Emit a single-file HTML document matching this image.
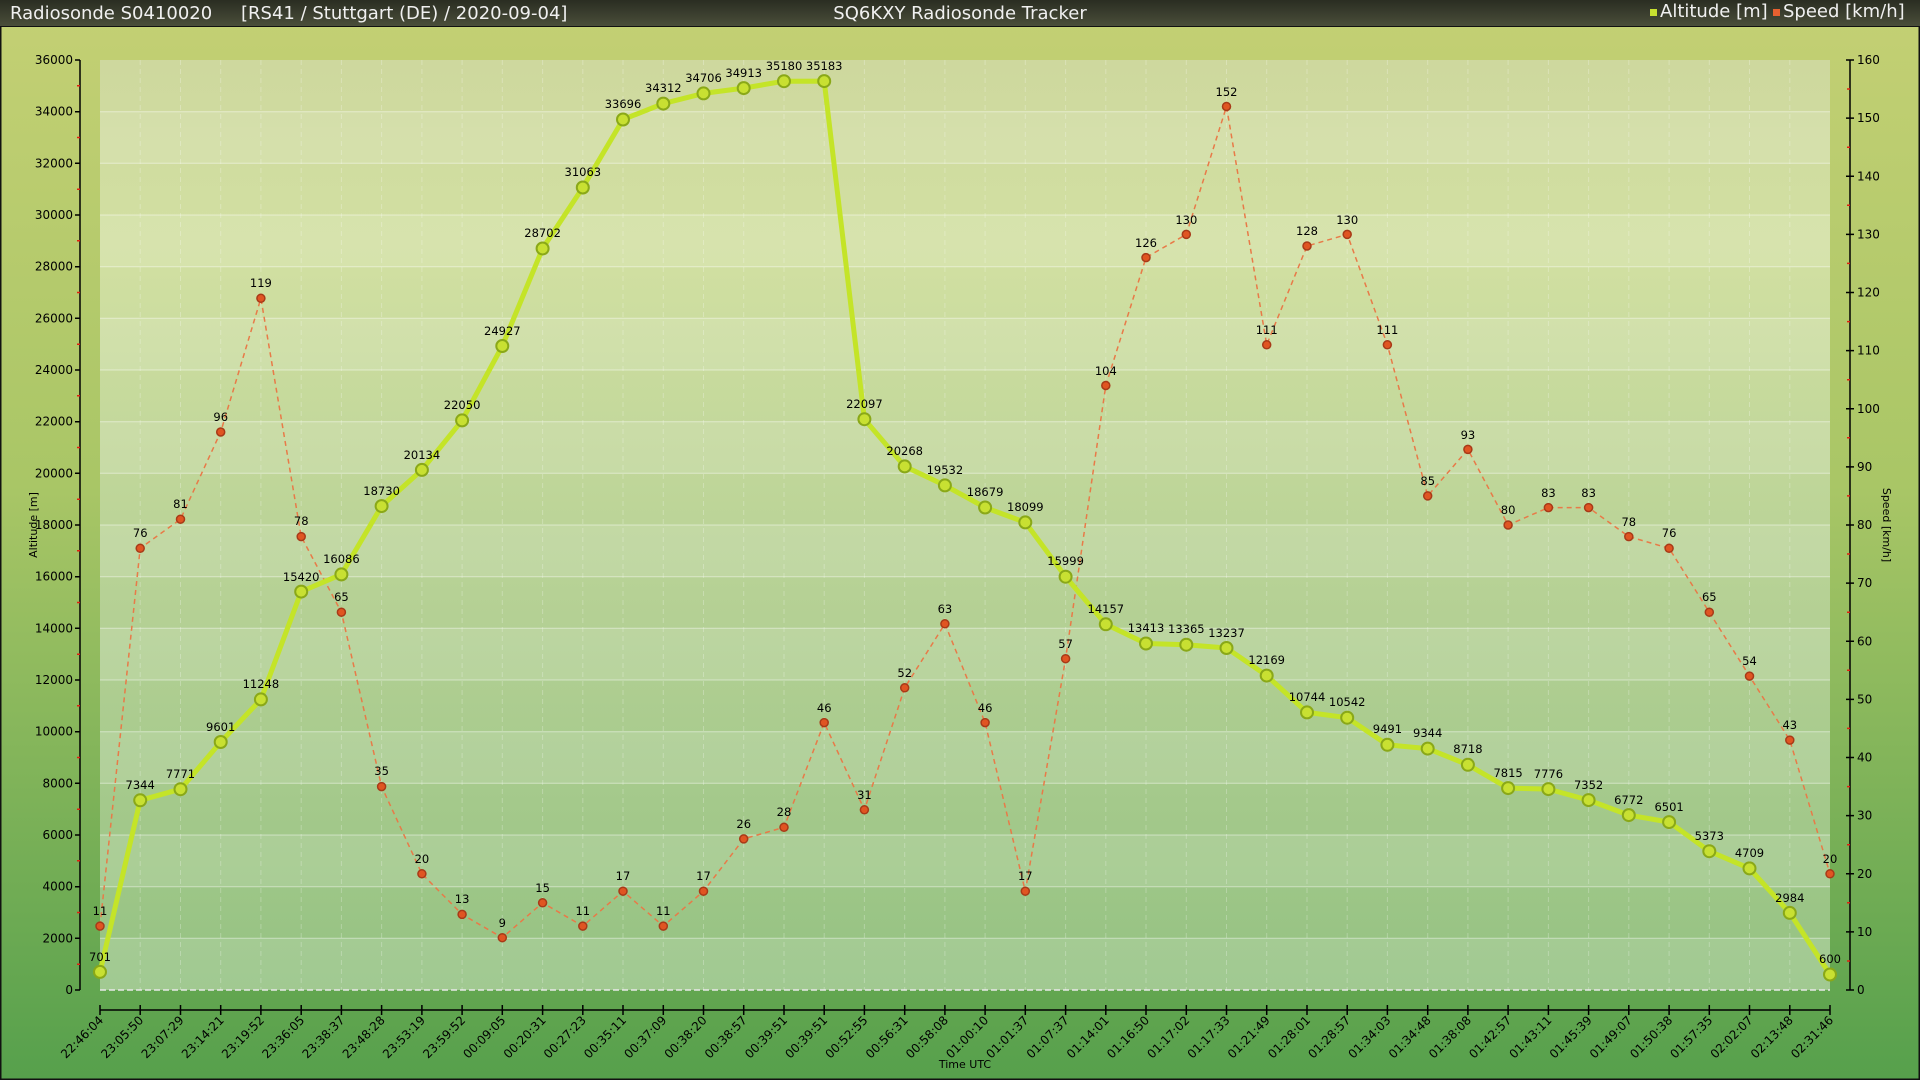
<!DOCTYPE html>
<html><head><meta charset="utf-8"><style>
html,body{margin:0;padding:0;width:1920px;height:1080px;overflow:hidden;font-family:"Liberation Sans","DejaVu Sans",sans-serif;}
</style></head><body>
<svg width="1920" height="1080" viewBox="0 0 1920 1080" xmlns="http://www.w3.org/2000/svg" font-family="DejaVu Sans, Liberation Sans, sans-serif">
<defs>
<linearGradient id="bg" x1="0" y1="0" x2="0" y2="1"><stop offset="0" stop-color="#c4d074"/><stop offset="0.45" stop-color="#a9c666"/><stop offset="1" stop-color="#56a04c"/></linearGradient>
<linearGradient id="hd" x1="0" y1="0" x2="0" y2="1"><stop offset="0" stop-color="#2a2d22"/><stop offset="1" stop-color="#4a4e3a"/></linearGradient>
<linearGradient id="pl" x1="0" y1="0" x2="0" y2="1"><stop offset="0" stop-color="#ced89e"/><stop offset="0.2" stop-color="#d2e0a2"/><stop offset="0.6" stop-color="#b4d094"/><stop offset="1" stop-color="#94c282"/></linearGradient>
</defs>
<rect width="1920" height="1080" fill="url(#bg)"/>
<rect x="0.5" y="26" width="1919" height="1053.5" fill="none" stroke="#111" stroke-width="2"/>
<rect width="1920" height="26" fill="url(#hd)"/>
<text x="10" y="19" font-size="18" fill="#f0f0f0">Radiosonde S0410020</text>
<text x="241" y="19" font-size="18" fill="#f0f0f0">[RS41 / Stuttgart (DE) / 2020-09-04]</text>
<text x="960" y="19" font-size="18" fill="#f0f0f0" text-anchor="middle">SQ6KXY Radiosonde Tracker</text>
<rect x="1650" y="9" width="7" height="7" fill="#c8e030"/>
<text x="1660" y="17" font-size="18" fill="#f0f0f0">Altitude [m]</text>
<rect x="1773" y="9" width="7" height="7" fill="#e86030"/>
<text x="1783" y="17" font-size="18" fill="#f0f0f0">Speed [km/h]</text>

<rect x="100" y="60" width="1730" height="930" fill="url(#pl)"/>
<g fill="#ffffff" opacity="0.12">
<rect x="100" y="111.7" width="1730" height="51.6"/><rect x="100" y="215" width="1730" height="51.7"/><rect x="100" y="318.3" width="1730" height="51.7"/><rect x="100" y="421.7" width="1730" height="51.6"/><rect x="100" y="525" width="1730" height="51.7"/><rect x="100" y="628.3" width="1730" height="51.7"/><rect x="100" y="731.7" width="1730" height="51.6"/><rect x="100" y="835" width="1730" height="51.7"/><rect x="100" y="938.3" width="1730" height="51.7"/>
</g>
<g stroke="#ffffff" stroke-opacity="0.45" stroke-width="1">
<line x1="100" x2="1830" y1="938.3" y2="938.3"/><line x1="100" x2="1830" y1="886.7" y2="886.7"/><line x1="100" x2="1830" y1="835" y2="835"/><line x1="100" x2="1830" y1="783.3" y2="783.3"/><line x1="100" x2="1830" y1="731.7" y2="731.7"/><line x1="100" x2="1830" y1="680" y2="680"/><line x1="100" x2="1830" y1="628.3" y2="628.3"/><line x1="100" x2="1830" y1="576.7" y2="576.7"/><line x1="100" x2="1830" y1="525" y2="525"/><line x1="100" x2="1830" y1="473.3" y2="473.3"/><line x1="100" x2="1830" y1="421.7" y2="421.7"/><line x1="100" x2="1830" y1="370" y2="370"/><line x1="100" x2="1830" y1="318.3" y2="318.3"/><line x1="100" x2="1830" y1="266.7" y2="266.7"/><line x1="100" x2="1830" y1="215" y2="215"/><line x1="100" x2="1830" y1="163.3" y2="163.3"/><line x1="100" x2="1830" y1="111.7" y2="111.7"/>
</g>
<line x1="100" x2="1830" y1="990" y2="990" stroke="#e8e8e8" stroke-width="1.5" stroke-dasharray="6,3"/>

<!-- left axis -->
<g stroke="#000" stroke-width="1.5">
<line x1="80" y1="60" x2="80" y2="990"/>
<line x1="1850" y1="60" x2="1850" y2="990"/>
<line x1="100" y1="1010" x2="1830" y2="1010"/>
</g>
<g font-size="12" fill="#000" text-anchor="end">
<text x="73" y="994">0</text><text x="73" y="942.3">2000</text><text x="73" y="890.7">4000</text><text x="73" y="839">6000</text><text x="73" y="787.3">8000</text><text x="73" y="735.7">10000</text><text x="73" y="684">12000</text><text x="73" y="632.3">14000</text><text x="73" y="580.7">16000</text><text x="73" y="529">18000</text><text x="73" y="477.3">20000</text><text x="73" y="425.7">22000</text><text x="73" y="374">24000</text><text x="73" y="322.3">26000</text><text x="73" y="270.7">28000</text><text x="73" y="219">30000</text><text x="73" y="167.3">32000</text><text x="73" y="115.7">34000</text><text x="73" y="64">36000</text>
</g>
<g font-size="12" fill="#000">
<text x="1857" y="994">0</text><text x="1857" y="935.9">10</text><text x="1857" y="877.8">20</text><text x="1857" y="819.6">30</text><text x="1857" y="761.5">40</text><text x="1857" y="703.4">50</text><text x="1857" y="645.3">60</text><text x="1857" y="587.1">70</text><text x="1857" y="529">80</text><text x="1857" y="470.9">90</text><text x="1857" y="412.8">100</text><text x="1857" y="354.6">110</text><text x="1857" y="296.5">120</text><text x="1857" y="238.4">130</text><text x="1857" y="180.3">140</text><text x="1857" y="122.1">150</text><text x="1857" y="64">160</text>
</g>
<path stroke="#000" stroke-width="1.5" d="M75 990h5M75 938.3h5M75 886.7h5M75 835h5M75 783.3h5M75 731.7h5M75 680h5M75 628.3h5M75 576.7h5M75 525h5M75 473.3h5M75 421.7h5M75 370h5M75 318.3h5M75 266.7h5M75 215h5M75 163.3h5M75 111.7h5M75 60h5
M1846 990h8M1846 931.9h8M1846 873.8h8M1846 815.6h8M1846 757.5h8M1846 699.4h8M1846 641.3h8M1846 583.1h8M1846 525h8M1846 466.9h8M1846 408.8h8M1846 350.6h8M1846 292.5h8M1846 234.4h8M1846 176.3h8M1846 118.1h8M1846 60h8"/>
<path stroke="#e02010" stroke-width="1.5" d="M77 964.2h3M77 912.5h3M77 860.8h3M77 809.2h3M77 757.5h3M77 705.8h3M77 654.2h3M77 602.5h3M77 550.8h3M77 499.2h3M77 447.5h3M77 395.8h3M77 344.2h3M77 292.5h3M77 240.8h3M77 189.2h3M77 137.5h3M77 85.8h3
M1847 961h3M1847 902.8h3M1847 844.7h3M1847 786.6h3M1847 728.4h3M1847 670.3h3M1847 612.2h3M1847 554h3M1847 495.9h3M1847 437.8h3M1847 379.7h3M1847 321.6h3M1847 263.4h3M1847 205.3h3M1847 147.2h3M1847 89h3"/>
<text transform="translate(37,525) rotate(-90)" font-size="11" text-anchor="middle" fill="#000">Altitude [m]</text>
<text transform="translate(1883,525) rotate(90)" font-size="11" text-anchor="middle" fill="#000">Speed [km/h]</text>
<text x="965" y="1068" font-size="11" text-anchor="middle" fill="#000">Time UTC</text>

<!-- vertical dashed grid + x ticks -->
<g stroke="#ffffff" stroke-opacity="0.25" stroke-dasharray="5,4">
<path d="M140.2 60V990M180.5 60V990M220.7 60V990M260.9 60V990M301.2 60V990M341.4 60V990M381.6 60V990M421.9 60V990M462.1 60V990M502.3 60V990M542.6 60V990M582.8 60V990M623 60V990M663.3 60V990M703.5 60V990M743.7 60V990M784 60V990M824.2 60V990M864.4 60V990M904.7 60V990M944.9 60V990M985.1 60V990M1025.3 60V990M1065.6 60V990M1105.8 60V990M1146 60V990M1186.3 60V990M1226.5 60V990M1266.7 60V990M1307 60V990M1347.2 60V990M1387.4 60V990M1427.7 60V990M1467.9 60V990M1508.1 60V990M1548.4 60V990M1588.6 60V990M1628.8 60V990M1669.1 60V990M1709.3 60V990M1749.5 60V990M1789.8 60V990"/>
</g>
<path stroke="#000" stroke-width="1.5" d="M100 1005v10M140.2 1005v10M180.5 1005v10M220.7 1005v10M260.9 1005v10M301.2 1005v10M341.4 1005v10M381.6 1005v10M421.9 1005v10M462.1 1005v10M502.3 1005v10M542.6 1005v10M582.8 1005v10M623 1005v10M663.3 1005v10M703.5 1005v10M743.7 1005v10M784 1005v10M824.2 1005v10M864.4 1005v10M904.7 1005v10M944.9 1005v10M985.1 1005v10M1025.3 1005v10M1065.6 1005v10M1105.8 1005v10M1146 1005v10M1186.3 1005v10M1226.5 1005v10M1266.7 1005v10M1307 1005v10M1347.2 1005v10M1387.4 1005v10M1427.7 1005v10M1467.9 1005v10M1508.1 1005v10M1548.4 1005v10M1588.6 1005v10M1628.8 1005v10M1669.1 1005v10M1709.3 1005v10M1749.5 1005v10M1789.8 1005v10M1830 1005v10"/>
<g font-size="12" fill="#000" text-anchor="end">
<text transform="translate(104,1021) rotate(-45)">22:46:04</text>
<text transform="translate(144.2,1021) rotate(-45)">23:05:50</text>
<text transform="translate(184.5,1021) rotate(-45)">23:07:29</text>
<text transform="translate(224.7,1021) rotate(-45)">23:14:21</text>
<text transform="translate(264.9,1021) rotate(-45)">23:19:52</text>
<text transform="translate(305.2,1021) rotate(-45)">23:36:05</text>
<text transform="translate(345.4,1021) rotate(-45)">23:38:37</text>
<text transform="translate(385.6,1021) rotate(-45)">23:48:28</text>
<text transform="translate(425.9,1021) rotate(-45)">23:53:19</text>
<text transform="translate(466.1,1021) rotate(-45)">23:59:52</text>
<text transform="translate(506.3,1021) rotate(-45)">00:09:05</text>
<text transform="translate(546.6,1021) rotate(-45)">00:20:31</text>
<text transform="translate(586.8,1021) rotate(-45)">00:27:23</text>
<text transform="translate(627,1021) rotate(-45)">00:35:11</text>
<text transform="translate(667.3,1021) rotate(-45)">00:37:09</text>
<text transform="translate(707.5,1021) rotate(-45)">00:38:20</text>
<text transform="translate(747.7,1021) rotate(-45)">00:38:57</text>
<text transform="translate(788,1021) rotate(-45)">00:39:51</text>
<text transform="translate(828.2,1021) rotate(-45)">00:39:51</text>
<text transform="translate(868.4,1021) rotate(-45)">00:52:55</text>
<text transform="translate(908.7,1021) rotate(-45)">00:56:31</text>
<text transform="translate(948.9,1021) rotate(-45)">00:58:08</text>
<text transform="translate(989.1,1021) rotate(-45)">01:00:10</text>
<text transform="translate(1029.3,1021) rotate(-45)">01:01:37</text>
<text transform="translate(1069.6,1021) rotate(-45)">01:07:37</text>
<text transform="translate(1109.8,1021) rotate(-45)">01:14:01</text>
<text transform="translate(1150,1021) rotate(-45)">01:16:50</text>
<text transform="translate(1190.3,1021) rotate(-45)">01:17:02</text>
<text transform="translate(1230.5,1021) rotate(-45)">01:17:33</text>
<text transform="translate(1270.7,1021) rotate(-45)">01:21:49</text>
<text transform="translate(1311,1021) rotate(-45)">01:28:01</text>
<text transform="translate(1351.2,1021) rotate(-45)">01:28:57</text>
<text transform="translate(1391.4,1021) rotate(-45)">01:34:03</text>
<text transform="translate(1431.7,1021) rotate(-45)">01:34:48</text>
<text transform="translate(1471.9,1021) rotate(-45)">01:38:08</text>
<text transform="translate(1512.1,1021) rotate(-45)">01:42:57</text>
<text transform="translate(1552.4,1021) rotate(-45)">01:43:11</text>
<text transform="translate(1592.6,1021) rotate(-45)">01:45:39</text>
<text transform="translate(1632.8,1021) rotate(-45)">01:49:07</text>
<text transform="translate(1673.1,1021) rotate(-45)">01:50:38</text>
<text transform="translate(1713.3,1021) rotate(-45)">01:57:35</text>
<text transform="translate(1753.5,1021) rotate(-45)">02:02:07</text>
<text transform="translate(1793.8,1021) rotate(-45)">02:13:48</text>
<text transform="translate(1834,1021) rotate(-45)">02:31:46</text>
</g>

<!-- speed series -->
<polyline fill="none" stroke="#e87a48" stroke-width="1.5" stroke-dasharray="5,4" points="100,926.1 140.2,548.3 180.5,519.2 220.7,432 260.9,298.3 301.2,536.6 341.4,612.2 381.6,786.6 421.9,873.8 462.1,914.4 502.3,937.7 542.6,902.8 582.8,926.1 623,891.2 663.3,926.1 703.5,891.2 743.7,838.9 784,827.3 824.2,722.6 864.4,809.8 904.7,687.8 944.9,623.8 985.1,722.6 1025.3,891.2 1065.6,658.7 1105.8,385.5 1146,257.6 1186.3,234.4 1226.5,106.5 1266.7,344.8 1307,246 1347.2,234.4 1387.4,344.8 1427.7,495.9 1467.9,449.4 1508.1,525 1548.4,507.6 1588.6,507.6 1628.8,536.6 1669.1,548.3 1709.3,612.2 1749.5,676.1 1789.8,740.1 1830,873.8"/>
<!-- altitude series -->
<polyline fill="none" stroke="#c4e428" stroke-width="5" stroke-linejoin="round" points="100,971.9 140.2,800.3 180.5,789.2 220.7,742 260.9,699.4 301.2,591.6 341.4,574.4 381.6,506.1 421.9,469.9 462.1,420.4 502.3,346 542.6,248.5 582.8,187.5 623,119.5 663.3,103.6 703.5,93.4 743.7,88.1 784,81.2 824.2,81.1 864.4,419.2 904.7,466.4 944.9,485.4 985.1,507.5 1025.3,522.4 1065.6,576.7 1105.8,624.3 1146,643.5 1186.3,644.7 1226.5,648 1266.7,675.6 1307,712.4 1347.2,717.7 1387.4,744.8 1427.7,748.6 1467.9,764.8 1508.1,788.1 1548.4,789.1 1588.6,800.1 1628.8,815.1 1669.1,822.1 1709.3,851.2 1749.5,868.4 1789.8,912.9 1830,974.5"/>

<g fill="#e05522" stroke="#a83a18" stroke-width="1.5">
<circle cx="100" cy="926.1" r="4"/><circle cx="140.2" cy="548.3" r="4"/><circle cx="180.5" cy="519.2" r="4"/><circle cx="220.7" cy="432" r="4"/><circle cx="260.9" cy="298.3" r="4"/><circle cx="301.2" cy="536.6" r="4"/><circle cx="341.4" cy="612.2" r="4"/><circle cx="381.6" cy="786.6" r="4"/><circle cx="421.9" cy="873.8" r="4"/><circle cx="462.1" cy="914.4" r="4"/><circle cx="502.3" cy="937.7" r="4"/><circle cx="542.6" cy="902.8" r="4"/><circle cx="582.8" cy="926.1" r="4"/><circle cx="623" cy="891.2" r="4"/><circle cx="663.3" cy="926.1" r="4"/><circle cx="703.5" cy="891.2" r="4"/><circle cx="743.7" cy="838.9" r="4"/><circle cx="784" cy="827.3" r="4"/><circle cx="824.2" cy="722.6" r="4"/><circle cx="864.4" cy="809.8" r="4"/><circle cx="904.7" cy="687.8" r="4"/><circle cx="944.9" cy="623.8" r="4"/><circle cx="985.1" cy="722.6" r="4"/><circle cx="1025.3" cy="891.2" r="4"/><circle cx="1065.6" cy="658.7" r="4"/><circle cx="1105.8" cy="385.5" r="4"/><circle cx="1146" cy="257.6" r="4"/><circle cx="1186.3" cy="234.4" r="4"/><circle cx="1226.5" cy="106.5" r="4"/><circle cx="1266.7" cy="344.8" r="4"/><circle cx="1307" cy="246" r="4"/><circle cx="1347.2" cy="234.4" r="4"/><circle cx="1387.4" cy="344.8" r="4"/><circle cx="1427.7" cy="495.9" r="4"/><circle cx="1467.9" cy="449.4" r="4"/><circle cx="1508.1" cy="525" r="4"/><circle cx="1548.4" cy="507.6" r="4"/><circle cx="1588.6" cy="507.6" r="4"/><circle cx="1628.8" cy="536.6" r="4"/><circle cx="1669.1" cy="548.3" r="4"/><circle cx="1709.3" cy="612.2" r="4"/><circle cx="1749.5" cy="676.1" r="4"/><circle cx="1789.8" cy="740.1" r="4"/><circle cx="1830" cy="873.8" r="4"/>
</g>
<g fill="#c8e032" stroke="#8aa818" stroke-width="2">
<circle cx="100" cy="971.9" r="6"/><circle cx="140.2" cy="800.3" r="6"/><circle cx="180.5" cy="789.2" r="6"/><circle cx="220.7" cy="742" r="6"/><circle cx="260.9" cy="699.4" r="6"/><circle cx="301.2" cy="591.6" r="6"/><circle cx="341.4" cy="574.4" r="6"/><circle cx="381.6" cy="506.1" r="6"/><circle cx="421.9" cy="469.9" r="6"/><circle cx="462.1" cy="420.4" r="6"/><circle cx="502.3" cy="346" r="6"/><circle cx="542.6" cy="248.5" r="6"/><circle cx="582.8" cy="187.5" r="6"/><circle cx="623" cy="119.5" r="6"/><circle cx="663.3" cy="103.6" r="6"/><circle cx="703.5" cy="93.4" r="6"/><circle cx="743.7" cy="88.1" r="6"/><circle cx="784" cy="81.2" r="6"/><circle cx="824.2" cy="81.1" r="6"/><circle cx="864.4" cy="419.2" r="6"/><circle cx="904.7" cy="466.4" r="6"/><circle cx="944.9" cy="485.4" r="6"/><circle cx="985.1" cy="507.5" r="6"/><circle cx="1025.3" cy="522.4" r="6"/><circle cx="1065.6" cy="576.7" r="6"/><circle cx="1105.8" cy="624.3" r="6"/><circle cx="1146" cy="643.5" r="6"/><circle cx="1186.3" cy="644.7" r="6"/><circle cx="1226.5" cy="648" r="6"/><circle cx="1266.7" cy="675.6" r="6"/><circle cx="1307" cy="712.4" r="6"/><circle cx="1347.2" cy="717.7" r="6"/><circle cx="1387.4" cy="744.8" r="6"/><circle cx="1427.7" cy="748.6" r="6"/><circle cx="1467.9" cy="764.8" r="6"/><circle cx="1508.1" cy="788.1" r="6"/><circle cx="1548.4" cy="789.1" r="6"/><circle cx="1588.6" cy="800.1" r="6"/><circle cx="1628.8" cy="815.1" r="6"/><circle cx="1669.1" cy="822.1" r="6"/><circle cx="1709.3" cy="851.2" r="6"/><circle cx="1749.5" cy="868.4" r="6"/><circle cx="1789.8" cy="912.9" r="6"/><circle cx="1830" cy="974.5" r="6"/>
</g>

<g font-size="11.5" fill="#000" text-anchor="middle">
<text x="100" y="915">11</text><text x="140.2" y="537">76</text><text x="180.5" y="508">81</text><text x="220.7" y="421">96</text><text x="260.9" y="287">119</text><text x="301.2" y="525">78</text><text x="341.4" y="601">65</text><text x="381.6" y="775">35</text><text x="421.9" y="863">20</text><text x="462.1" y="903">13</text><text x="502.3" y="927">9</text><text x="542.6" y="892">15</text><text x="582.8" y="915">11</text><text x="623" y="880">17</text><text x="663.3" y="915">11</text><text x="703.5" y="880">17</text><text x="743.7" y="828">26</text><text x="784" y="816">28</text><text x="824.2" y="712">46</text><text x="864.4" y="799">31</text><text x="904.7" y="677">52</text><text x="944.9" y="613">63</text><text x="985.1" y="712">46</text><text x="1025.3" y="880">17</text><text x="1065.6" y="648">57</text><text x="1105.8" y="375">104</text><text x="1146" y="247">126</text><text x="1186.3" y="224">130</text><text x="1226.5" y="96">152</text><text x="1266.7" y="334">111</text><text x="1307" y="235">128</text><text x="1347.2" y="224">130</text><text x="1387.4" y="334">111</text><text x="1427.7" y="485">85</text><text x="1467.9" y="439">93</text><text x="1508.1" y="514">80</text><text x="1548.4" y="497">83</text><text x="1588.6" y="497">83</text><text x="1628.8" y="526">78</text><text x="1669.1" y="537">76</text><text x="1709.3" y="601">65</text><text x="1749.5" y="665">54</text><text x="1789.8" y="729">43</text><text x="1830" y="863">20</text>
</g>
<g font-size="11.5" fill="#000" text-anchor="middle">
<text x="100" y="961">701</text><text x="140.2" y="789">7344</text><text x="180.5" y="778">7771</text><text x="220.7" y="731">9601</text><text x="260.9" y="688">11248</text><text x="301.2" y="581">15420</text><text x="341.4" y="563">16086</text><text x="381.6" y="495">18730</text><text x="421.9" y="459">20134</text><text x="462.1" y="409">22050</text><text x="502.3" y="335">24927</text><text x="542.6" y="237">28702</text><text x="582.8" y="176">31063</text><text x="623" y="108">33696</text><text x="663.3" y="92">34312</text><text x="703.5" y="82">34706</text><text x="743.7" y="77">34913</text><text x="784" y="70">35180</text><text x="824.2" y="70">35183</text><text x="864.4" y="408">22097</text><text x="904.7" y="455">20268</text><text x="944.9" y="474">19532</text><text x="985.1" y="496">18679</text><text x="1025.3" y="511">18099</text><text x="1065.6" y="565">15999</text><text x="1105.8" y="613">14157</text><text x="1146" y="632">13413</text><text x="1186.3" y="633">13365</text><text x="1226.5" y="637">13237</text><text x="1266.7" y="664">12169</text><text x="1307" y="701">10744</text><text x="1347.2" y="706">10542</text><text x="1387.4" y="733">9491</text><text x="1427.7" y="737">9344</text><text x="1467.9" y="753">8718</text><text x="1508.1" y="777">7815</text><text x="1548.4" y="778">7776</text><text x="1588.6" y="789">7352</text><text x="1628.8" y="804">6772</text><text x="1669.1" y="811">6501</text><text x="1709.3" y="840">5373</text><text x="1749.5" y="857">4709</text><text x="1789.8" y="902">2984</text><text x="1830" y="963">600</text>
</g>
</svg>
</body></html>
